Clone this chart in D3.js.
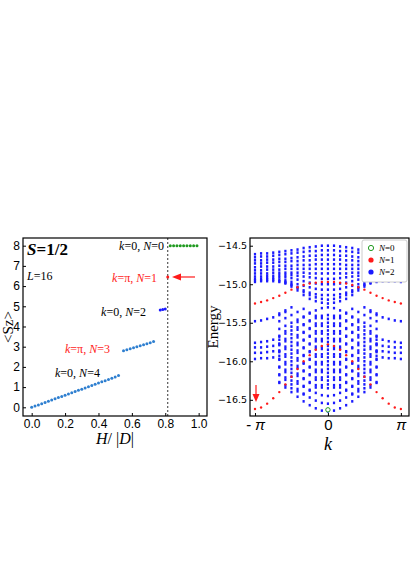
<!DOCTYPE html>
<html><head><meta charset="utf-8">
<script src="https://cdn.jsdelivr.net/npm/d3@7"></script>
<style>body{margin:0;background:#fff}svg{font-family:"Liberation Serif",serif}</style>
</head><body><svg width="416" height="588"></svg>
<script>
// left panel data
const hSeg1 = [0,0.02,0.04,0.06,0.08,0.10,0.12,0.14,0.16,0.18,0.20,0.22,0.24,0.26,0.28,0.30,0.32,0.34,0.36,0.38,0.40,0.42,0.44,0.46,0.48,0.50,0.52];
const szSeg1 = [0.00,0.06,0.12,0.18,0.24,0.30,0.36,0.42,0.48,0.54,0.60,0.66,0.72,0.78,0.84,0.90,0.96,1.02,1.08,1.14,1.20,1.26,1.32,1.38,1.44,1.50,1.57];
const hSeg2 = [0.55,0.57,0.59,0.61,0.63,0.65,0.67,0.69,0.71,0.73];
const szSeg2 = [2.80,2.85,2.90,2.95,3.00,3.05,3.10,3.15,3.20,3.26];
const hSeg3 = [0.77,0.785,0.80];
const szSeg3 = [4.82,4.84,4.87];
const hRed = [0.815], szRed = [6.45];
const hGreen = [0.83,0.85,0.87,0.89,0.91,0.93,0.95,0.97,0.99];
const szGreen = [8,8,8,8,8,8,8,8,8];
const xTicksL = [0,0.2,0.4,0.6,0.8,1.0];
const yTicksL = [0,1,2,3,4,5,6,7,8];

// right panel: energies at k = i*pi/12, i = 0..12 (symmetric in k)
const kSteps = [0,1,2,3,4,5,6,7,8,9,10,11,12];
const _ = null;
const bandN2 = [
  [-14.50,-14.50,-14.51,-14.52,-14.53,-14.55,-14.56,-14.57,-14.58,-14.59,-14.60,-14.60,-14.61],
  [-14.56,-14.56,-14.57,-14.57,-14.58,-14.59,-14.60,-14.61,-14.62,-14.63,-14.64,-14.64,-14.65],
  [-14.62,-14.62,-14.63,-14.63,-14.64,-14.65,-14.66,-14.67,-14.67,-14.68,-14.68,-14.69,-14.69],
  [-14.68,-14.68,-14.68,-14.69,-14.69,-14.70,-14.70,-14.71,-14.71,-14.72,-14.72,-14.73,-14.73],
  [-14.74,-14.74,-14.74,-14.75,-14.75,-14.75,-14.76,-14.76,-14.76,-14.77,-14.77,-14.77,-14.78],
  [-14.80,-14.80,-14.80,-14.80,-14.80,-14.80,-14.80,-14.80,-14.81,-14.81,-14.81,-14.82,-14.82],
  [-14.86,-14.86,-14.86,-14.86,-14.85,-14.85,-14.85,-14.85,-14.85,-14.85,-14.86,-14.86,-14.86],
  [-14.93,-14.93,-14.92,-14.91,-14.90,-14.89,-14.88,-14.88,-14.88,-14.89,-14.89,-14.90,-14.90],
  [-15.00,-15.00,-14.99,-14.98,-14.96,-14.94,-14.92,-14.91,-14.91,-14.92,-14.92,-14.93,-14.93],
  [-15.07,-15.07,-15.06,-15.04,-15.02,-15.00,-14.97,-14.95,-14.94,-14.94,-14.94,-14.95,-14.95],
  [-15.14,-15.14,-15.13,-15.11,-15.08,-15.04,-15.00,-14.97,-14.96,-14.96,-14.96,-14.96,-14.97],
  [-15.20,-15.19,-15.17,-15.14,-15.10,-15.05,-15.01,-14.98,_,_,_,_,_],
  [-15.25,-15.24,-15.22,-15.19,-15.14,-15.08,-15.03,-14.99,-14.97,_,_,_,_],
  // bowls
  [-16.65,-16.64,-16.61,-16.57,-16.52,-16.46,-16.40,-16.34,-16.28,_,_,_,_],
  [-16.55,-16.54,-16.51,-16.47,-16.42,-16.36,-16.30,-16.24,-16.18,_,_,_,_],
  [-16.45,-16.44,-16.41,-16.37,-16.32,-16.26,-16.20,-16.14,-16.08,_,_,_,_],
  [-16.35,-16.34,-16.31,-16.27,-16.22,-16.16,-16.10,-16.04,-15.98,_,_,_,_],
  [-16.25,-16.24,-16.21,-16.17,-16.12,-16.06,-16.00,-15.94,-15.88,_,_,_,_],
  [-16.15,-16.14,-16.11,-16.07,-16.02,-15.96,-15.90,-15.84,-15.78,_,_,_,_],
  [-16.05,-16.04,-16.01,-15.97,-15.92,-15.86,-15.80,-15.74,-15.68,_,_,_,_],
  [-15.95,-15.94,-15.91,-15.87,-15.82,-15.76,-15.70,-15.64,-15.58,_,_,_,_],
  [-15.85,-15.84,-15.81,-15.77,-15.72,-15.66,-15.60,-15.54,-15.48,_,_,_,_],
  [-15.75,-15.74,-15.71,-15.67,-15.62,-15.56,-15.50,-15.44,-15.38,_,_,_,_],
  [-15.65,-15.64,-15.61,-15.57,-15.52,-15.46,-15.40,-15.34,_,_,_,_,_],
  [-15.55,-15.54,-15.51,-15.47,-15.42,-15.36,-15.30,_,_,_,_,_,_],
  [-15.45,-15.44,-15.41,-15.37,-15.32,_,_,_,_,_,_,_,_],
  // domes
  [-15.30,-15.31,-15.34,-15.38,-15.43,-15.49,-15.55,-15.61,-15.67,_,_,_,_],
  [-15.40,-15.41,-15.44,-15.48,-15.53,-15.59,-15.65,-15.71,-15.77,_,_,_,_],
  [-15.50,-15.51,-15.54,-15.58,-15.63,-15.69,-15.75,-15.81,-15.87,_,_,_,_],
  [-15.60,-15.61,-15.64,-15.68,-15.73,-15.79,-15.85,-15.91,-15.97,_,_,_,_],
  [-15.70,-15.71,-15.74,-15.78,-15.83,-15.89,-15.95,-16.01,-16.07,_,_,_,_],
  [-15.80,-15.81,-15.84,-15.88,-15.93,-15.99,-16.05,-16.11,-16.17,_,_,_,_],
  [-15.90,-15.91,-15.94,-15.98,-16.03,-16.09,-16.15,-16.21,-16.27,_,_,_,_],
  [-16.00,-16.01,-16.04,-16.08,-16.13,-16.19,-16.25,-16.31,_,_,_,_,_],
  [-16.10,-16.11,-16.14,-16.18,-16.23,-16.29,-16.35,_,_,_,_,_,_],
  [-16.20,-16.21,-16.24,-16.28,-16.33,-16.39,_,_,_,_,_,_,_],
  [-16.30,-16.31,-16.34,-16.38,-16.43,_,_,_,_,_,_,_,_],
  // edge columns and side line
  [_,_,_,_,_,_,_,_,-15.72,-15.72,-15.74,-15.75,-15.76],
  [_,_,_,_,_,_,_,_,-15.79,-15.80,-15.81,-15.82,-15.82],
  [_,_,_,_,_,_,_,_,-15.86,-15.87,-15.88,-15.89,-15.89],
  [_,_,_,_,_,_,_,_,-15.93,-15.95,-15.96,-15.96,-15.97],
  [_,_,_,_,_,_,_,-15.36,-15.40,-15.43,-15.45,-15.47,-15.48]
];
const bandN1 = [
  [-14.97,-14.97,-14.98,-14.99,-15.01,-15.04,-15.07,-15.11,-15.15,-15.18,-15.21,-15.23,-15.25],
  [-15.78,-15.80,-15.85,-15.92,-16.00,-16.10,-16.20,-16.30,-16.40,-16.48,-16.55,-16.60,-16.62]
];
const groundN0 = [-16.63];
const yTicksR = [-14.5,-15.0,-15.5,-16.0,-16.5];

const svg = d3.select("svg");

// ---------- left panel ----------
const xL = d3.scaleLinear().domain([-0.052, 1.05]).range([23, 207]);
const yL = d3.scaleLinear().domain([-0.43, 8.38]).range([416, 238]);
const gL = svg.append("g");

gL.append("g").attr("transform", "translate(0,416)")
  .call(d3.axisBottom(xL).tickValues(xTicksL).tickFormat(d3.format(".1f")).tickSize(-3).tickSizeOuter(0));
gL.append("g").attr("transform", "translate(23,0)")
  .call(d3.axisLeft(yL).tickValues(yTicksL).tickSize(-3).tickSizeOuter(0));
gL.selectAll(".tick text").attr("font-size", 12).attr("fill", "#000");
gL.selectAll(".tick line").attr("stroke", "#000");
gL.selectAll(".domain").remove();
gL.append("rect").attr("x", 23).attr("y", 238).attr("width", 184).attr("height", 178)
  .attr("fill", "none").attr("stroke", "#000").attr("stroke-width", 1.2);

gL.append("line").attr("x1", xL(0.815)).attr("x2", xL(0.815)).attr("y1", 238).attr("y2", 416)
  .attr("stroke", "#000").attr("stroke-dasharray", "2,2").attr("stroke-width", 0.8);

function dotsL(hs, ss, color) {
  gL.append("g").selectAll("circle").data(hs).join("circle")
    .attr("cx", d => xL(d)).attr("cy", (d, i) => yL(ss[i])).attr("r", 1.5).attr("fill", color);
}
dotsL(hSeg1, szSeg1, "#2e7fd0");
dotsL(hSeg2, szSeg2, "#2e7fd0");
dotsL(hSeg3, szSeg3, "#1a1aff");
dotsL(hRed, szRed, "#ff1a1a");
dotsL(hGreen, szGreen, "#1f9a1f");

function lbl(g, x, y, parts, anchor, size, color) {
  const t = g.append("text").attr("x", x).attr("y", y).attr("text-anchor", anchor)
    .attr("font-size", size).attr("fill", color);
  parts.forEach(p => t.append("tspan").attr("font-style", p[1] ? "italic" : "normal").text(p[0]));
  return t;
}
lbl(gL, 27, 255, [["S", 1], ["=1/2", 0]], "start", 17, "#000").attr("font-weight", "bold");
lbl(gL, 27, 280, [["L", 1], ["=16", 0]], "start", 12, "#000");
lbl(gL, 164, 250, [["k", 1], ["=0, ", 0], ["N", 1], ["=0", 0]], "end", 12, "#000");
lbl(gL, 157, 282, [["k", 1], ["=π, ", 0], ["N", 1], ["=1", 0]], "end", 12, "#ff1a1a");
lbl(gL, 146, 316, [["k", 1], ["=0, ", 0], ["N", 1], ["=2", 0]], "end", 12, "#000");
lbl(gL, 65, 353, [["k", 1], ["=π, ", 0], ["N", 1], ["=3", 0]], "start", 12, "#ff1a1a");
lbl(gL, 55, 377, [["k", 1], ["=0, ", 0], ["N", 1], ["=4", 0]], "start", 12, "#000");

// red arrow pointing left
gL.append("line").attr("x1", 195).attr("x2", 180).attr("y1", yL(6.45)).attr("y2", yL(6.45))
  .attr("stroke", "#ff1a1a").attr("stroke-width", 1.2);
gL.append("path").attr("d", `M172,${yL(6.45)} l9,-3.5 l0,7 z`).attr("fill", "#ff1a1a");

lbl(gL, 115, 444, [["H", 1], ["/ |", 0], ["D", 1], ["|", 0]], "middle", 16, "#000");
gL.append("text").attr("transform", "translate(13,327) rotate(-90)").attr("text-anchor", "middle")
  .attr("font-size", 15).text("<Sz>");

// ---------- right panel ----------
const xR = d3.scaleLinear().domain([-Math.PI - 0.215, Math.PI + 0.35]).range([250, 409]);
const yR = d3.scaleLinear().domain([-16.71, -14.40]).range([416, 238]);
const gR = svg.append("g");

const xAxR = gR.append("g").attr("transform", "translate(0,416)")
  .call(d3.axisBottom(xR).tickValues([-Math.PI, 0, Math.PI]).tickFormat((d, i) => ["- π", "0", "π"][i]).tickSize(-3).tickSizeOuter(0));
const yAxR = gR.append("g").attr("transform", "translate(250,0)")
  .call(d3.axisLeft(yR).tickValues(yTicksR).tickFormat(d => "−" + Math.abs(d).toFixed(1)).tickSize(-3).tickSizeOuter(0));
gR.selectAll(".tick text").attr("fill", "#000");
gR.selectAll(".tick line").attr("stroke", "#000");
gR.selectAll(".domain").remove();
xAxR.selectAll(".tick text").attr("font-size", 15).attr("font-style", (d, i) => i === 1 ? "normal" : "italic");
yAxR.selectAll(".tick text").attr("font-size", 9.5).attr("font-family", "DejaVu Sans");

function expand(curves) {
  const pts = [];
  curves.forEach(c => kSteps.forEach(i => {
    if (c[i] === null) return;
    const k = i * Math.PI / 12;
    pts.push([k, c[i]]);
    if (i > 0) pts.push([-k, c[i]]);
  }));
  return pts;
}
const plot = gR.append("g");
plot.selectAll("rect.n2").data(expand(bandN2)).join("rect").attr("class", "n2")
  .attr("x", d => xR(d[0]) - 1.1).attr("y", d => yR(d[1]) - 1.3).attr("width", 2.2).attr("height", 2.6)
  .attr("fill", "#1a1aff");
plot.selectAll("circle.n1").data(expand(bandN1)).join("circle").attr("class", "n1")
  .attr("cx", d => xR(d[0])).attr("cy", d => yR(d[1])).attr("r", 1.2).attr("fill", "#ff1a1a");
plot.selectAll("circle.n0").data(groundN0).join("circle").attr("class", "n0")
  .attr("cx", xR(0)).attr("cy", d => yR(d)).attr("r", 2.2).attr("fill", "#fff")
  .attr("stroke", "#1f9a1f").attr("stroke-width", 1);

// legend
const lg = gR.append("g");
lg.append("rect").attr("x", 362).attr("y", 240).attr("width", 45).attr("height", 42)
  .attr("fill", "#fff").attr("stroke", "#ccc").attr("rx", 2);
[["0", "n0"], ["1", "n1"], ["2", "n2"]].forEach((e, i) => {
  const y = 248 + i * 12;
  const c = lg.append("circle").attr("cx", 371).attr("cy", y).attr("r", 2.6);
  if (i === 0) c.attr("fill", "#fff").attr("stroke", "#1f9a1f");
  else c.attr("fill", i === 1 ? "#ff1a1a" : "#1a1aff");
  lbl(lg, 379, y + 3, [["N", 1], ["=" + e[0], 0]], "start", 9, "#000");
});

gR.append("rect").attr("x", 250).attr("y", 238).attr("width", 159).attr("height", 178)
  .attr("fill", "none").attr("stroke", "#000").attr("stroke-width", 1.2);

// red arrow pointing down
gR.append("line").attr("x1", 256).attr("x2", 256).attr("y1", 385).attr("y2", 395)
  .attr("stroke", "#ff1a1a").attr("stroke-width", 1.2);
gR.append("path").attr("d", "M256,402 l-3.5,-8 l7,0 z").attr("fill", "#ff1a1a");

lbl(gR, 328, 450, [["k", 1]], "middle", 18, "#000");
gR.append("text").attr("transform", "translate(218,327) rotate(-90)").attr("text-anchor", "middle")
  .attr("font-size", 15).text("Energy");
</script></body></html>
